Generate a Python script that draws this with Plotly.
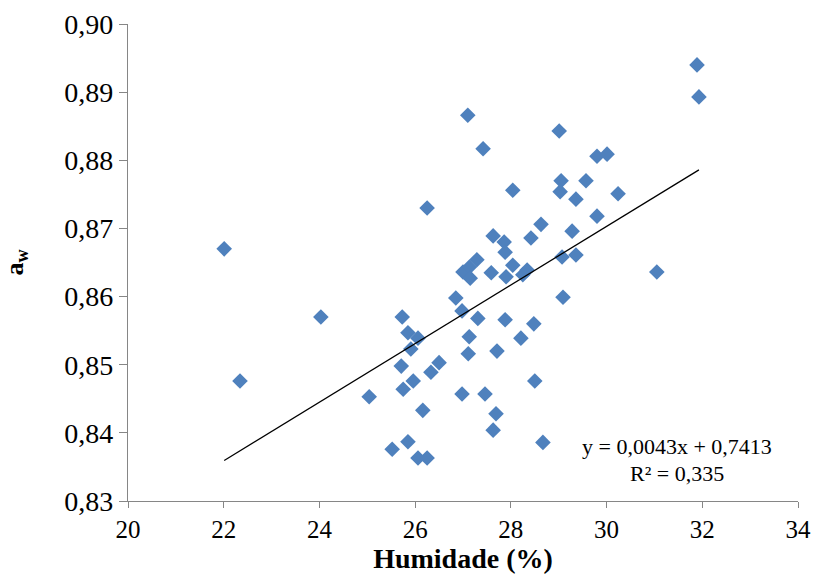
import numpy as np
import plotly.graph_objects as go

# Moisture content (%) and water activity of each sample
humidade = [
    22.01, 22.34, 24.03, 25.04, 25.52, 25.73, 25.71, 25.75, 25.85, 25.91,
    25.85, 25.96, 26.06, 26.06, 26.25, 26.16, 26.25, 26.33, 26.50, 26.85,
    26.98, 26.98, 27.00, 27.13, 27.29, 27.15, 27.13, 27.11, 27.10, 27.31,
    27.42, 27.46, 27.59, 27.63, 27.63, 27.69, 27.71, 27.86, 27.88, 27.90,
    27.88, 28.04, 28.04, 28.21, 28.25, 28.34, 28.42, 28.48, 28.50, 28.63,
    28.67, 29.01, 29.05, 29.03, 29.07, 29.09, 29.28, 29.36, 29.36, 29.57,
    29.80, 29.80, 30.01, 30.24, 31.05, 31.89, 31.93,
]
aw = [
    0.8670, 0.8476, 0.8570, 0.8453, 0.8376, 0.8570, 0.8498, 0.8464, 0.8547, 0.8523,
    0.8387, 0.8476, 0.8539, 0.8363, 0.8363, 0.8433, 0.8730, 0.8489, 0.8503, 0.8598,
    0.8579, 0.8457, 0.8636, 0.8643, 0.8654, 0.8627, 0.8541, 0.8516, 0.8866, 0.8568,
    0.8817, 0.8457, 0.8635, 0.8689, 0.8404, 0.8428, 0.8520, 0.8680, 0.8665, 0.8629,
    0.8566, 0.8756, 0.8646, 0.8539, 0.8632, 0.8639, 0.8686, 0.8560, 0.8476, 0.8706,
    0.8386, 0.8843, 0.8770, 0.8754, 0.8658, 0.8599, 0.8696, 0.8743, 0.8661, 0.8770,
    0.8718, 0.8806, 0.8809, 0.8751, 0.8636, 0.8940, 0.8893,
]

# Linear trend line coefficients and coefficient of determination
slope = 0.0043
intercept = 0.7413
r2 = 0.335

x_tick_values = [20, 22, 24, 26, 28, 30, 32, 34]
y_tick_values = [0.83, 0.84, 0.85, 0.86, 0.87, 0.88, 0.89, 0.90]

SERIF = "Liberation Serif"
AXIS_GREY = "#868686"

trend_x = np.array([min(humidade), max(humidade)])
trend_y = slope * trend_x + intercept

fig = go.Figure()
fig.add_trace(go.Scatter(
    x=humidade, y=aw, mode="markers",
    marker=dict(symbol="diamond", size=12, color="#4F81BD",
                line=dict(width=0)),
    showlegend=False, hoverinfo="x+y",
))
fig.add_trace(go.Scatter(
    x=trend_x, y=trend_y, mode="lines",
    line=dict(color="black", width=1.3),
    showlegend=False, hoverinfo="skip",
))


def pt(v, fmt):
    return format(v, fmt).replace(".", ",")


eq_text = f"y = {pt(slope, '.4f')}x + {pt(intercept, '.4f')}"
r2_text = f"R² = {pt(r2, '.3f')}"

fig.add_annotation(text=eq_text, xref="paper", yref="paper", x=0.819, y=0.114,
                   xanchor="center", yanchor="middle", showarrow=False,
                   font=dict(family=SERIF, size=22, color="black"))
fig.add_annotation(text=r2_text, xref="paper", yref="paper", x=0.819, y=0.058,
                   xanchor="center", yanchor="middle", showarrow=False,
                   font=dict(family=SERIF, size=22, color="black"))

fig.update_layout(
    width=814, height=574,
    margin=dict(l=128, r=16, t=24, b=73),
    paper_bgcolor="white", plot_bgcolor="white",
    separators=", ",
    font=dict(family=SERIF, color="black"),
)
fig.update_xaxes(
    range=[20, 34], tickvals=x_tick_values, tickformat="d",
    automargin=False,
    showline=True, linecolor=AXIS_GREY, linewidth=1.3,
    ticks="outside", ticklen=6, tickcolor=AXIS_GREY, tickwidth=1.3,
    showgrid=False, zeroline=False,
    tickfont=dict(family=SERIF, size=25, color="black"),
    title=dict(text="<b>Humidade (%)</b>", standoff=9,
               font=dict(family=SERIF, size=28, color="black")),
)
fig.update_yaxes(
    range=[0.83, 0.90], tickvals=y_tick_values, tickformat=".2f",
    automargin=False,
    showline=True, linecolor=AXIS_GREY, linewidth=1.3,
    ticks="outside", ticklen=8, tickcolor=AXIS_GREY, tickwidth=1.3,
    showgrid=False, zeroline=False,
    tickfont=dict(family=SERIF, size=28, color="black"),
    title=dict(text="<b>a<sub>w</sub></b>", standoff=34,
               font=dict(family=SERIF, size=26, color="black")),
)

fig.write_html("out.html")
